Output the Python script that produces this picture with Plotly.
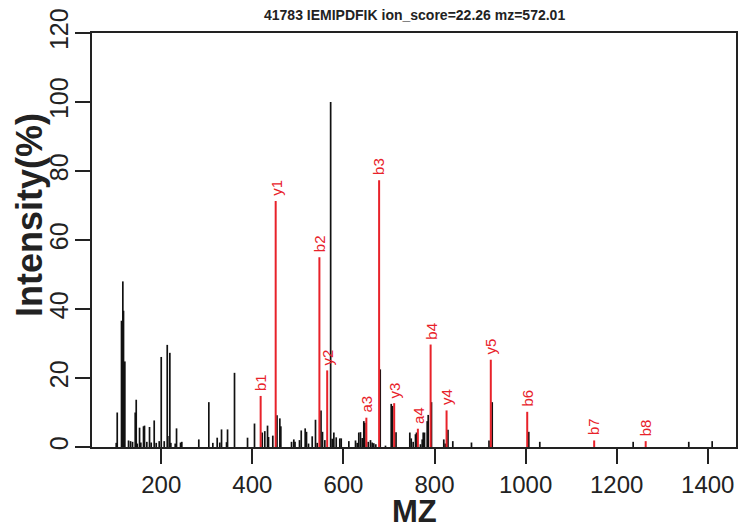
import plotly.graph_objects as go

# ---- data ----
title_text = "41783 IEMIPDFIK ion_score=22.26 mz=572.01"
x_title = "MZ"
y_title = "Intensity(%)"

noise_mz = [101.2, 103.4, 112.8, 115.7, 117.2, 120.1, 128.2, 132.6, 137.0, 142.9, 145.1,
            147.3, 152.4, 155.2, 161.1, 163.3, 168.4, 174.3, 178.0, 184.6, 189.0, 195.6,
            200.0, 206.6, 213.2, 214.5, 218.9, 221.1, 230.7, 233.6, 242.4, 245.2, 282.5,
            304.5, 313.3, 322.9, 328.6, 332.4, 343.4, 345.6, 360.9, 389.5, 404.8, 421.7,
            427.4, 433.4, 435.6, 445.0, 454.2, 460.4, 462.6, 486.1, 491.1, 493.7, 503.6,
            507.4, 516.1, 519.0, 523.4, 531.5, 538.7, 542.5, 550.8, 554.1, 559.2, 572.0,
            575.4, 579.0, 584.2, 592.1, 595.2, 611.9, 626.6, 630.3, 633.8, 637.5, 641.3,
            644.8, 647.0, 654.5, 659.5, 663.2, 666.7, 671.1, 680.8, 692.4, 705.0, 707.8,
            715.5, 745.8, 748.9, 753.2, 758.3, 760.5, 769.3, 773.0, 775.2, 778.0, 784.0,
            786.2, 793.4, 820.4, 823.5, 829.6, 840.2, 881.2, 919.7, 926.7, 1007.0, 1031.2,
            1236.2, 1358.3, 1409.7]
noise_int = [1.2, 10.0, 36.6, 48.0, 39.5, 24.8, 1.9, 1.7, 1.5, 10.0, 13.7,
             1.0, 5.6, 1.3, 6.0, 6.2, 1.5, 5.8, 1.3, 7.7, 1.2, 1.7,
             26.1, 1.7, 29.6, 3.2, 27.3, 1.2, 1.0, 5.4, 1.3, 1.5, 2.2,
             13.0, 1.2, 2.7, 1.3, 5.1, 1.4, 5.1, 21.5, 2.7, 6.8, 4.2,
             4.6, 6.2, 2.9, 3.3, 9.2, 8.3, 6.0, 1.5, 2.2, 1.5, 2.0,
             4.8, 5.4, 4.4, 1.0, 3.1, 7.9, 1.2, 10.6, 4.4, 2.0, 100.0,
             2.4, 4.2, 2.8, 2.5, 2.5, 1.7, 1.9, 1.2, 4.2, 4.3, 2.6,
             7.5, 7.0, 1.5, 2.0, 1.3, 1.1, 0.8, 22.5, 0.4, 12.5, 11.9,
             4.3, 4.2, 2.5, 1.5, 3.7, 4.2, 0.8, 2.2, 4.2, 4.2, 7.5,
             9.3, 13.0, 2.2, 1.0, 5.0, 1.7, 1.3, 1.9, 13.0, 4.4, 1.5,
             1.5, 1.5, 1.7]

ion_labels = ["b1", "y1", "b2", "y2", "a3", "b3", "y3", "a4", "b4", "y4", "y5", "b6", "b7", "b8"]
ion_mz = [418.3, 451.3, 547.3, 564.4, 650.4, 678.4, 711.5, 763.5, 791.5, 826.5, 923.6, 1003.6, 1150.6, 1263.7]
ion_int = [14.8, 71.3, 55.0, 22.2, 8.5, 77.3, 12.7, 5.3, 29.7, 10.6, 25.3, 10.2, 1.9, 1.7]

x_ticks = [200, 400, 600, 800, 1000, 1200, 1400]
y_ticks = [0, 20, 40, 60, 80, 100, 120]

RED = "#E8222A"
INK = "#222222"
FONT = "Liberation Sans, Arial, sans-serif"


def sticks(xs, ys):
    sx, sy = [], []
    for a, b in zip(xs, ys):
        sx += [a, a, None]
        sy += [0, b, None]
    return sx, sy


fig = go.Figure()
nx, ny = sticks(noise_mz, noise_int)
fig.add_trace(go.Scatter(x=nx, y=ny, mode="lines", line=dict(color="#111111", width=1.7),
                         hoverinfo="skip", showlegend=False))
rx, ry = sticks(ion_mz, ion_int)
fig.add_trace(go.Scatter(x=rx, y=ry, mode="lines", line=dict(color=RED, width=2),
                         hoverinfo="skip", showlegend=False))

for lab, m, h in zip(ion_labels, ion_mz, ion_int):
    fig.add_annotation(x=m, y=h, text=lab, showarrow=False, textangle=-90,
                       xanchor="center", yanchor="bottom", yshift=3,
                       font=dict(family=FONT, size=15, color=RED))

fig.add_annotation(x=0.5, y=1, xref="paper", yref="paper", text="<b>" + title_text + "</b>",
                   showarrow=False, xanchor="center", yanchor="bottom", yshift=8,
                   font=dict(family=FONT, size=14, color=INK))
fig.add_annotation(x=0.5, y=0, xref="paper", yref="paper", text="<b>" + x_title + "</b>",
                   showarrow=False, xanchor="center", yanchor="middle", yshift=-64,
                   font=dict(family=FONT, size=31, color=INK))
fig.add_annotation(x=0, y=0.5, xref="paper", yref="paper", text="<b>" + y_title + "</b>",
                   showarrow=False, xanchor="center", yanchor="middle", xshift=-63, yshift=25,
                   textangle=-90, font=dict(family=FONT, size=36, color=INK))

fig.update_xaxes(range=[48, 1462], tickmode="array", tickvals=x_ticks,
                 ticktext=[str(v) for v in x_ticks], ticks="outside", ticklen=15, tickwidth=1.5,
                 tickcolor=INK, showline=True, linecolor=INK, linewidth=1.5,
                 mirror=True, showgrid=False, zeroline=False,
                 tickfont=dict(family=FONT, size=24, color=INK),
                 ticklabelstandoff=0, automargin=False)
fig.update_yaxes(range=[0, 120], tickmode="array", tickvals=y_ticks,
                 ticktext=[str(v) for v in y_ticks], ticks="outside", ticklen=15, tickwidth=1.5,
                 tickcolor=INK, showline=True, linecolor=INK, linewidth=1.5,
                 mirror=True, showgrid=False, zeroline=False,
                 tickfont=dict(family=FONT, size=25, color=INK),
                 tickangle=-90, ticklabelstandoff=-3, automargin=False)

# page body adds an 8px offset; figure sized so the plot area lands where the reference has it
fig.update_layout(width=743, height=522, margin=dict(l=84, r=15, t=25, b=83),
                  plot_bgcolor="white", paper_bgcolor="white", showlegend=False)

fig.write_html("out.html")
